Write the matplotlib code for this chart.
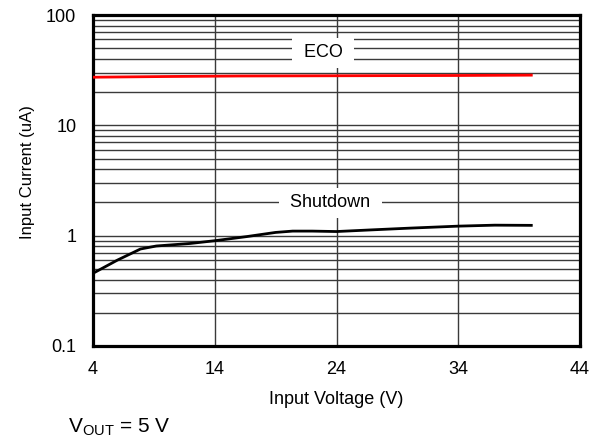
import matplotlib
matplotlib.use("Agg")
import matplotlib.pyplot as plt
import numpy as np
from matplotlib.ticker import FixedLocator, NullFormatter, LogLocator

plt.rcParams['font.family'] = ['Liberation Sans', 'DejaVu Sans']
plt.rcParams['mathtext.fontset'] = 'custom'
plt.rcParams['mathtext.rm'] = 'Liberation Sans'
plt.rcParams['mathtext.it'] = 'Liberation Sans'

# Data
eco_v = [4, 10, 16, 22, 28, 34, 40]
eco_i = [27.3, 27.7, 28.0, 28.1, 28.2, 28.3, 28.5]

sd_v = [4, 6, 7.9, 9.2, 12, 14, 16.6, 19, 20.4, 22, 24, 27, 30, 34, 37, 40]
sd_i = [0.456, 0.60, 0.757, 0.806, 0.85, 0.90, 0.98, 1.07, 1.10, 1.10, 1.09, 1.13, 1.17, 1.22, 1.245, 1.24]

x_ticks = [4, 14, 24, 34, 44]
y_ticks = [0.1, 1, 10, 100]
y_labels = ["0.1", "1", "10", "100"]

fig = plt.figure(figsize=(6.02, 4.45), dpi=100)
ax = fig.add_axes([93/602, 1 - 346/445, (580-93)/602, (346-15)/445])

ax.set_yscale('log')
ax.set_xlim(4, 44)
ax.set_ylim(0.1, 100)

ax.xaxis.set_major_locator(FixedLocator(x_ticks))
ax.set_xticklabels([str(t) for t in x_ticks])
ax.yaxis.set_major_locator(FixedLocator(y_ticks))
ax.set_yticklabels(y_labels)
ax.yaxis.set_minor_locator(LogLocator(base=10, subs=np.arange(2, 10)))
ax.yaxis.set_minor_formatter(NullFormatter())

ax.grid(True, which='major', axis='both', color='#3a3a3a', lw=1.0, zorder=0)
ax.grid(True, which='minor', axis='y', color='#3a3a3a', lw=1.0, zorder=0)
ax.tick_params(which='both', length=0, labelsize=13)
ax.tick_params(axis='x', pad=11)
ax.tick_params(axis='y', pad=12)

for s in ax.spines.values():
    s.set_linewidth(2.3)
    s.set_color('black')

ax.plot(eco_v, eco_i, color='#ff0000', lw=2.0, zorder=3)
ax.plot(sd_v, sd_i, color='black', lw=2.0, zorder=3)

bbox = dict(facecolor='white', edgecolor='none', boxstyle='square,pad=0.35')
ax.text(22.9, 45.3, " ECO ", ha='center', va='center', fontsize=13, bbox=bbox, zorder=4)
ax.text(23.5, 1.98, " Shutdown ", ha='center', va='center', fontsize=13, bbox=bbox, zorder=4)

fig.text(336/602, 1 - 399/445, "Input Voltage (V)", fontsize=13, ha='center', va='center')
fig.text(28/602, 1 - 172/445, "Input Current (uA)", fontsize=12, ha='center', va='center', rotation=90)

fig.text(68/602, 1 - 427/445, r"V$_{\mathrm{OUT}}$ = 5 V", fontsize=15, ha='left', va='center')

fig.savefig("out.png", dpi=100)
